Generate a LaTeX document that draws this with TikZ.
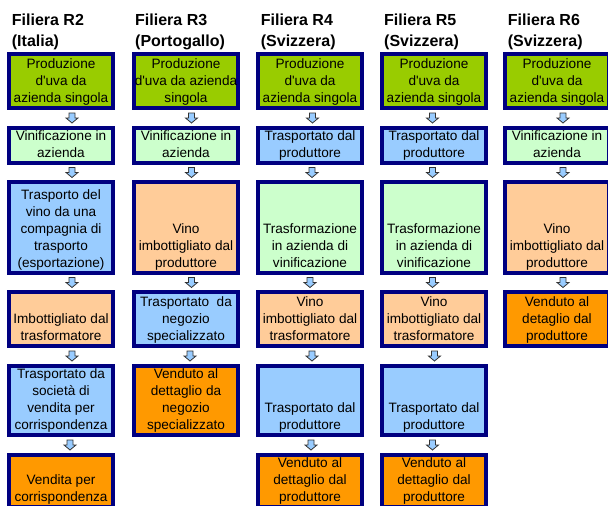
\documentclass[tikz,border=0pt]{standalone}
\usepackage{fontspec}
\setmainfont{Liberation Sans}
\usetikzlibrary{calc}
\definecolor{navy}{HTML}{000080}
\definecolor{cgreen}{HTML}{99CC00}
\definecolor{clgreen}{HTML}{CCFFCC}
\definecolor{clblue}{HTML}{99CCFF}
\definecolor{cpeach}{HTML}{FFCC99}
\definecolor{corange}{HTML}{FF9900}
\tikzset{
  box/.style={draw=navy, line width=4pt, inner sep=0pt, outer sep=0pt, anchor=north west},
  ttl/.style={font=\fontsize{16}{21}\selectfont\bfseries, align=left, inner sep=0pt, anchor=north west},
  blockarrow/.style={fill=clblue, draw=black!80, line width=0.8pt, line join=miter}
}
\newcommand\bt[2]{\parbox[c][#1pt][b]{104pt}{\fontsize{13.6}{17}\selectfont\centering #2\strut\par\kern0.3pt}}
\newcommand\dnarrow[3]{%
  \path ($(#1.south)!0.5!(#2.north)$) ++(#3,0) coordinate (tmp);
  \draw[blockarrow] ([shift={(-3,-5)}]tmp) -- ++(6,0) -- ++(0,5) -- ++(3,0) -- ++(-6,5) -- ++(-6,-5) -- ++(3,0) -- cycle;}
\begin{document}
\begin{tikzpicture}[x=1pt,y=-1pt]
\useasboundingbox (0,0) rectangle (608,506);
\clip (0,0) rectangle (608,506);
% titles
\node[ttl] (t2) at (11.7,13.5) {Filiera R2\\(Italia)};
\node[ttl] (t3) at (135,13.5) {Filiera R3\\(Portogallo)};
\node[ttl] (t4) at (260.7,13.5) {Filiera R4\\(Svizzera)};
\node[ttl] (t5) at (384,13.5) {Filiera R5\\(Svizzera)};
\node[ttl] (t6) at (507.7,13.5) {Filiera R6\\(Svizzera)};
% R2
\node[box, fill=cgreen] (r2a) at (9,54) {\bt{54}{Produzione\\d\textquotesingle uva da\\azienda singola}};
\node[box, fill=clgreen] (r2b) at (9,128) {\bt{35}{Vinificazione in\\azienda}};
\node[box, fill=clblue] (r2c) at (9,182) {\bt{91}{Trasporto del\\vino da una\\compagnia di\\trasporto\\(esportazione)}};
\node[box, fill=cpeach] (r2d) at (9,292) {\bt{54}{Imbottigliato dal\\trasformatore}};
\node[box, fill=clblue] (r2e) at (9,366) {\bt{69}{Trasportato da\\società di\\vendita per\\corrispondenza}};
\node[box, fill=corange] (r2f) at (9,455) {\bt{52}{Vendita per\\corrispondenza}};
% R3
\node[box, fill=cgreen] (r3a) at (134,54) {\bt{54}{Produzione\\d\textquotesingle uva da azienda\\singola}};
\node[box, fill=clgreen] (r3b) at (134,128) {\bt{35}{Vinificazione in\\azienda}};
\node[box, fill=cpeach] (r3c) at (134,182) {\bt{91}{Vino\\imbottigliato dal\\produttore}};
\node[box, fill=clblue] (r3d) at (134,292) {\bt{54}{Trasportato~~da\\negozio\\specializzato}};
\node[box, fill=corange] (r3e) at (134,366) {\bt{69}{Venduto al\\dettaglio da\\negozio\\specializzato}};
% R4
\node[box, fill=cgreen] (r4a) at (258,54) {\bt{54}{Produzione\\d\textquotesingle uva da\\azienda singola}};
\node[box, fill=clblue] (r4b) at (258,128) {\bt{35}{Trasportato dal\\produttore}};
\node[box, fill=clgreen] (r4c) at (258,182) {\bt{91}{Trasformazione\\in azienda di\\vinificazione}};
\node[box, fill=cpeach] (r4d) at (258,292) {\bt{54}{Vino\\imbottigliato dal\\trasformatore}};
\node[box, fill=clblue] (r4e) at (258,366) {\bt{69}{Trasportato dal\\produttore}};
\node[box, fill=corange] (r4f) at (258,455) {\bt{52}{Venduto al\\dettaglio dal\\produttore}};
% R5
\node[box, fill=cgreen] (r5a) at (382,54) {\bt{54}{Produzione\\d\textquotesingle uva da\\azienda singola}};
\node[box, fill=clblue] (r5b) at (382,128) {\bt{35}{Trasportato dal\\produttore}};
\node[box, fill=clgreen] (r5c) at (382,182) {\bt{91}{Trasformazione\\in azienda di\\vinificazione}};
\node[box, fill=cpeach] (r5d) at (382,292) {\bt{54}{Vino\\imbottigliato dal\\trasformatore}};
\node[box, fill=clblue] (r5e) at (382,366) {\bt{69}{Trasportato dal\\produttore}};
\node[box, fill=corange] (r5f) at (382,455) {\bt{52}{Venduto al\\dettaglio dal\\produttore}};
% R6
\node[box, fill=cgreen] (r6a) at (505,54) {\bt{54}{Produzione\\d\textquotesingle uva da\\azienda singola}};
\node[box, fill=clgreen] (r6b) at (505,128) {\bt{35}{Vinificazione in\\azienda}};
\node[box, fill=cpeach] (r6c) at (505,182) {\bt{91}{Vino\\imbottigliato dal\\produttore}};
\node[box, fill=corange] (r6d) at (505,292) {\bt{54}{Venduto al\\detaglio dal\\produttore}};
% arrows
\dnarrow{r2a}{r2b}{11}
\dnarrow{r2b}{r2c}{11}
\dnarrow{r2c}{r2d}{11}
\dnarrow{r2d}{r2e}{11}
\dnarrow{r2e}{r2f}{9}
\dnarrow{r3a}{r3b}{5.5}
\dnarrow{r3b}{r3c}{5.5}
\dnarrow{r3c}{r3d}{5.5}
\dnarrow{r3d}{r3e}{4}
\dnarrow{r4a}{r4b}{2.5}
\dnarrow{r4b}{r4c}{2}
\dnarrow{r4c}{r4d}{0}
\dnarrow{r4d}{r4e}{2}
\dnarrow{r4e}{r4f}{1}
\dnarrow{r5a}{r5b}{-1.5}
\dnarrow{r5b}{r5c}{-1.5}
\dnarrow{r5c}{r5d}{-1.5}
\dnarrow{r5d}{r5e}{0.5}
\dnarrow{r5e}{r5f}{-1.5}
\dnarrow{r6a}{r6b}{6}
\dnarrow{r6b}{r6c}{6}
\dnarrow{r6c}{r6d}{6}
\end{tikzpicture}
\end{document}
